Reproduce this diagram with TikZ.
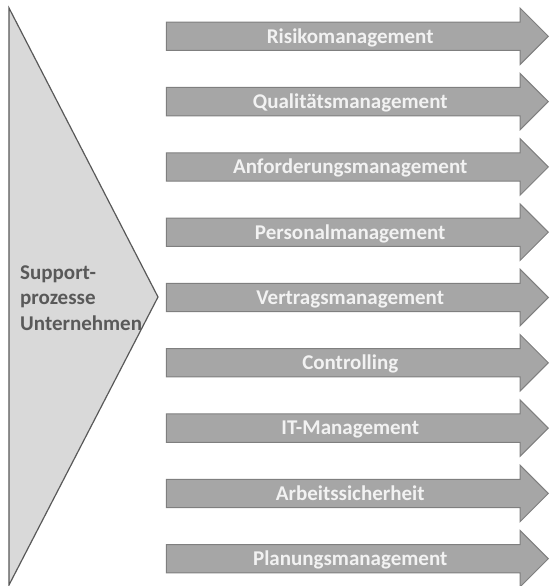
\documentclass[tikz,border=0pt]{standalone}
\usepackage{fontspec}
\setmainfont{Carlito}
\usetikzlibrary{positioning,shapes.arrows}
\definecolor{pfeilgrau}{HTML}{A6A6A6}
\definecolor{randgrau}{HTML}{7F7F7F}
\definecolor{dreieckgrau}{HTML}{D9D9D9}
\definecolor{dunkelgrau}{HTML}{595959}
\definecolor{hellweiss}{HTML}{F2F2F2}

\begin{document}
\begin{tikzpicture} [x=1pt, y=-1pt, node distance=65.3pt,
                    prozess/.style={single arrow, draw=randgrau, fill=pfeilgrau, line width=1pt,
                      minimum height=382pt, minimum width=55pt, single arrow head extend=14pt,
                      inner sep=0pt, outer sep=0pt, text height=20.45pt, text depth=6.85pt, text=hellweiss,
                      font=\fontsize{21}{24}\selectfont\bfseries},
                    dreieck/.style={draw=dunkelgrau, fill=dreieckgrau, line width=1.2pt, line join=miter}]
\useasboundingbox (0,0) rectangle (549,586);

\draw[dreieck] (9,8) -- (158,297) -- (9,585) -- cycle;
\node[anchor=base west, inner sep=0pt, align=left, text=dunkelgrau,
      font=\fontsize{21}{25.5}\selectfont\bfseries] (support) at (20,330)
      {Support-\\prozesse\\Unternehmen};

\node[prozess, anchor=tip] (1) at (548.3,36.3) {Risikomanagement};
\node[prozess, below=65.3pt of 1.tip, anchor=tip] (2) {Qualitätsmanagement};
\node[prozess, below=65.3pt of 2.tip, anchor=tip] (3) {Anforderungsmanagement};
\node[prozess, below=65.3pt of 3.tip, anchor=tip] (4) {Personalmanagement};
\node[prozess, below=65.3pt of 4.tip, anchor=tip] (5) {Vertragsmanagement};
\node[prozess, below=65.3pt of 5.tip, anchor=tip] (6) {Controlling};
\node[prozess, below=65.3pt of 6.tip, anchor=tip] (7) {IT-Management};
\node[prozess, below=65.3pt of 7.tip, anchor=tip] (8) {Arbeitssicherheit};
\node[prozess, below=65.3pt of 8.tip, anchor=tip] (9) {Planungsmanagement};
\end{tikzpicture}
\end{document}
